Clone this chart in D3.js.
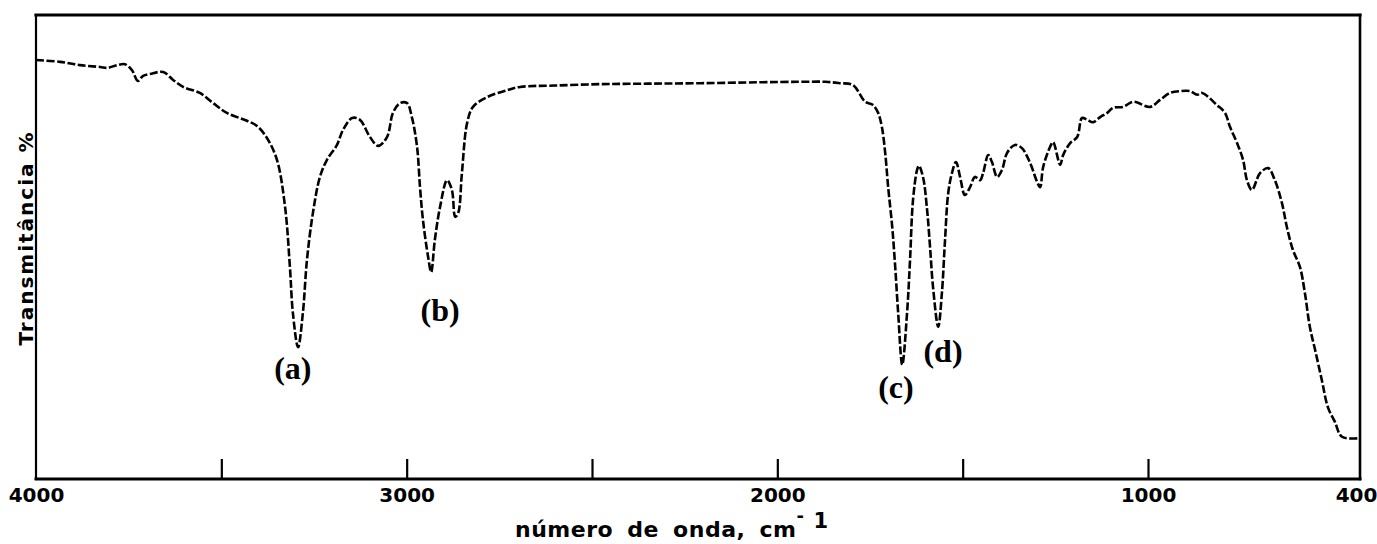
<!DOCTYPE html>
<html>
<head>
<meta charset="utf-8">
<script src="https://cdn.jsdelivr.net/npm/d3@7"></script>
<style>
  html, body { margin: 0; padding: 0; background: #fff; }
  svg { display: block; }
  .tick-labels text { font-family: "DejaVu Sans", sans-serif; font-weight: bold; font-size: 20px; fill: #000; }
</style>
</head>
<body>
<div id="container"></div>
<script>
const width = 1377;
const height = 544;

// spectrum: wavenumber (cm-1) and transmittance (%)
const wavenumbers = [
  4000, 3935, 3881, 3827, 3808, 3781, 3760, 3741, 3725, 3711, 3692, 3657, 3630, 3603,
  3558, 3522, 3485, 3431, 3404, 3377, 3350, 3328, 3315, 3307, 3293, 3280, 3269, 3253,
  3234, 3215, 3188, 3172, 3147, 3126, 3099, 3077, 3053, 3037, 3018, 2999, 2986, 2972,
  2964, 2956, 2942, 2934, 2924, 2910, 2891, 2878, 2869, 2861, 2851, 2837, 2821, 2783,
  2729, 2694, 2600, 2478, 2350, 2208, 2050, 1939, 1870, 1831, 1796, 1763, 1742, 1728,
  1718, 1709, 1701, 1690, 1682, 1674, 1663, 1650, 1642, 1634, 1623, 1618, 1607, 1596,
  1588, 1580, 1566, 1556, 1548, 1539, 1529, 1518, 1507, 1494, 1480, 1467, 1453, 1445,
  1431, 1421, 1407, 1394, 1380, 1359, 1340, 1318, 1299, 1291, 1283, 1264, 1256, 1237,
  1229, 1210, 1191, 1178, 1164, 1148, 1129, 1110, 1094, 1067, 1040, 994, 966, 938,
  909, 881, 861, 847, 805, 782, 768, 748, 731, 720, 706, 683, 660, 641,
  621, 607, 590, 570, 556, 542, 527, 508, 491, 471, 451, 400
];
const transmittance = [
  90.3, 89.9, 89.2, 88.8, 88.6, 89.2, 89.4, 88.1, 85.8, 86.9, 87.3, 87.7, 86.0, 84.5,
  83.2, 81.0, 78.9, 77.2, 76.1, 73.5, 68.8, 58.6, 45.7, 35.8, 28.4, 35.8, 47.2, 57.3,
  65.1, 68.8, 72.0, 75.2, 77.8, 77.4, 73.7, 71.8, 73.7, 78.9, 81.0, 81.0, 78.0, 71.6,
  62.9, 55.8, 47.8, 44.6, 51.5, 58.6, 64.4, 62.3, 56.5, 57.3, 65.9, 76.7, 80.2, 82.3,
  83.8, 84.5, 84.8, 85.1, 85.2, 85.3, 85.5, 85.6, 85.6, 85.3, 84.9, 81.3, 80.6, 78.9,
  75.9, 70.3, 62.9, 54.3, 45.7, 35.8, 24.6, 35.8, 47.2, 60.1, 66.6, 67.5, 65.1, 58.0,
  50.0, 41.4, 32.8, 40.1, 50.9, 61.6, 65.9, 68.3, 65.1, 61.2, 62.9, 65.1, 64.4, 65.9,
  69.8, 68.3, 65.1, 66.6, 70.3, 72.0, 71.3, 68.1, 64.0, 62.9, 67.2, 71.6, 72.6, 67.7,
  69.8, 72.4, 73.7, 77.8, 77.4, 76.9, 78.0, 78.9, 80.0, 80.2, 81.3, 80.2, 81.7, 83.2,
  83.6, 83.6, 82.8, 83.2, 80.6, 78.9, 75.9, 72.4, 68.8, 64.4, 62.3, 65.9, 67.0, 64.4,
  59.5, 54.3, 49.4, 45.7, 40.1, 32.8, 27.8, 21.3, 15.5, 12.3, 9.1, 8.8
];

const tickValues = [3500, 3000, 2500, 2000, 1500, 1000];
const labelValues = [4000, 3000, 2000, 1000, 400];

// peak annotations, placed in data units
const peakLabels = ['(a)', '(b)', '(c)', '(d)'];
const peakLabelWavenumber = [3307, 2910, 1680, 1553];
const peakLabelT = [21.6, 34.1, 17.5, 25.2];

const margin = {left: 36, right: 17, top: 15, bottom: 65};

// the printed axis is very slightly compressed below 1000 cm-1
const x = d3.scaleLinear()
  .domain([4000, 1000, 400])
  .range([margin.left, 1148, width - margin.right]);

const y = d3.scaleLinear()
  .domain([0, 100])
  .range([height - margin.bottom, margin.top]);

const svg = d3.select('#container').append('svg')
  .attr('width', width)
  .attr('height', height);

// frame
const x0 = x(4000), x1 = x(400), y0 = y(100), y1 = y(0);
svg.append('g')
  .attr('stroke', '#000')
  .attr('stroke-linecap', 'square')
  .selectAll('line')
  .data([
    {x1: x0, y1: y0, x2: x1, y2: y0, w: 3.2},
    {x1: x0, y1: y1, x2: x1, y2: y1, w: 3},
    {x1: x0, y1: y0, x2: x0, y2: y1, w: 2.2},
    {x1: x1, y1: y0, x2: x1, y2: y1, w: 2.6}
  ])
  .join('line')
  .attr('x1', d => d.x1).attr('y1', d => d.y1)
  .attr('x2', d => d.x2).attr('y2', d => d.y2)
  .attr('stroke-width', d => d.w);

// inward ticks along the bottom
const ticks = svg.append('g')
  .attr('transform', `translate(0,${y1})`)
  .call(d3.axisBottom(x).tickValues(tickValues).tickSize(-20).tickFormat(''));
ticks.select('.domain').remove();
ticks.selectAll('line').attr('stroke', '#000').attr('stroke-width', 2.2);

// tick labels
const labels = svg.append('g')
  .attr('class', 'tick-labels')
  .attr('transform', `translate(0,${y1})`)
  .call(d3.axisBottom(x).tickValues(labelValues).tickSize(0).tickPadding(9).tickFormat(d => d));
labels.select('.domain').remove();
labels.selectAll('text')
  .attr('dy', '0.71em')
  .attr('dx', d => d === 400 ? -4 : 0);

// spectrum trace
const points = wavenumbers.map((w, i) => [w, transmittance[i]]);
const line = d3.line()
  .x(d => x(d[0]))
  .y(d => y(d[1]))
  .curve(d3.curveCatmullRom.alpha(0.5));

svg.append('path')
  .datum(points)
  .attr('fill', 'none')
  .attr('stroke', '#000')
  .attr('stroke-width', 2.6)
  .attr('stroke-dasharray', '8,2.5')
  .attr('d', line);

// peak labels
svg.append('g')
  .selectAll('text')
  .data(peakLabels)
  .join('text')
  .attr('x', (d, i) => x(peakLabelWavenumber[i]))
  .attr('y', (d, i) => y(peakLabelT[i]))
  .attr('text-anchor', 'middle')
  .attr('font-family', '"Liberation Serif", serif')
  .attr('font-weight', 'bold')
  .attr('font-size', 32)
  .text(d => d);

// axis titles
svg.append('text')
  .attr('transform', `translate(33,238) rotate(-90)`)
  .attr('text-anchor', 'middle')
  .attr('font-family', '"DejaVu Sans", sans-serif')
  .attr('font-weight', 'bold')
  .attr('font-size', 20)
  .attr('letter-spacing', 2)
  .text('Transmitância %');

const xTitle = svg.append('text')
  .attr('x', 515)
  .attr('y', 537)
  .attr('font-family', '"DejaVu Sans", sans-serif')
  .attr('font-weight', 'bold')
  .attr('font-size', 22)
  .attr('letter-spacing', 0.5)
  .attr('word-spacing', 6);
xTitle.append('tspan').text('número de onda, cm');
xTitle.append('tspan').attr('font-size', 18).attr('dy', -15).text('-');
xTitle.append('tspan').attr('font-size', 21).attr('dx', 9).attr('dy', 6).text('1');
</script>
</body>
</html>
